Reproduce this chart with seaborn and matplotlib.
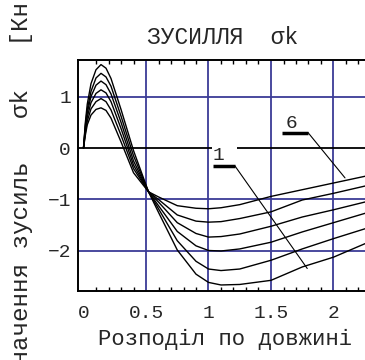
import numpy as np
import pandas as pd
import matplotlib
matplotlib.use("Agg")
import matplotlib.pyplot as plt
from matplotlib.ticker import MultipleLocator
import seaborn as sns

# ---- data ----
x_pos = [0, 0.015, 0.03, 0.06, 0.1, 0.14, 0.18, 0.22, 0.3, 0.4, 0.52, 0.6,
         0.75, 0.9, 1.0, 1.1, 1.25, 1.5, 1.75, 2.0, 2.25, 2.35]
curve_1 = [0, 0.5, 0.85, 1.25, 1.52, 1.62, 1.55, 1.35, 0.75, -0.05, -0.85, -1.25,
           -1.98, -2.45, -2.61, -2.66, -2.65, -2.57, -2.31, -2.12, -1.86, -1.76]
curve_2 = [0, 0.45, 0.75, 1.1, 1.36, 1.45, 1.38, 1.2, 0.62, -0.15, -0.85, -1.18,
           -1.8, -2.2, -2.35, -2.38, -2.35, -2.18, -1.96, -1.76, -1.57, -1.5]
curve_3 = [0, 0.4, 0.68, 1.0, 1.22, 1.3, 1.23, 1.05, 0.5, -0.25, -0.85, -1.12,
           -1.62, -1.9, -1.99, -2.0, -1.96, -1.83, -1.63, -1.45, -1.27, -1.2]
curve_4 = [0, 0.35, 0.6, 0.88, 1.06, 1.13, 1.07, 0.9, 0.38, -0.33, -0.85, -1.05,
           -1.45, -1.66, -1.73, -1.72, -1.67, -1.52, -1.34, -1.2, -1.05, -1.0]
curve_5 = [0, 0.3, 0.52, 0.76, 0.9, 0.96, 0.9, 0.74, 0.25, -0.4, -0.85, -1.0,
           -1.3, -1.42, -1.44, -1.43, -1.37, -1.24, -1.01, -0.88, -0.74, -0.7]
curve_6 = [0, 0.25, 0.45, 0.64, 0.75, 0.78, 0.73, 0.58, 0.12, -0.48, -0.85, -0.95,
           -1.12, -1.17, -1.18, -1.16, -1.1, -0.94, -0.81, -0.68, -0.55, -0.51]
curve_names = ["1", "2", "3", "4", "5", "6"]
x_ticks = [0, 0.5, 1, 1.5, 2]
x_tick_labels = ["0", "0.5", "1", "1.5", "2"]
y_ticks = [-2, -1, 0, 1]
y_tick_labels = ["−2", "−1", "0", "1"]
title_text = "ЗУСИЛЛЯ  σk"
x_label = "Розподіл по довжині"
y_label = "Значення зусиль   σk   [Кн]"

# label annotations: (text, text anchor (left), bar start, bar end, leader end)
labels = [
    ("1 ", (1.036, -0.14), (1.036, -0.35), (1.212, -0.35), (1.79, -2.34)),
    ("6 ", (1.62, 0.47), (1.588, 0.30), (1.796, 0.30), (2.092, -0.58)),
]

all_curves = [curve_1, curve_2, curve_3, curve_4, curve_5, curve_6]
rows = []
for name, vals in zip(curve_names, all_curves):
    for xv, yv in zip(x_pos, vals):
        rows.append({"x": xv, "y": yv, "curve": name})
df = pd.DataFrame(rows)

sns.set_style("white")
mono = ["Liberation Mono", "DejaVu Sans Mono"]
plt.rcParams["font.family"] = mono

fig = plt.figure(figsize=(3.65, 3.6), dpi=100)
ax = fig.add_axes([78 / 365, 69 / 360, 299 / 365, 231 / 360])

grid_c = "#3c3c96"
for gx in [0.5, 1.0, 1.5, 2.0]:
    ax.axvline(gx, color=grid_c, lw=1.3, zorder=1)
for gy in [1, -1, -2]:
    ax.axhline(gy, color=grid_c, lw=1.3, zorder=1)
ax.axhline(0, color="black", lw=1.3, zorder=1)

sns.lineplot(data=df, x="x", y="y", hue="curve", palette=["black"] * 6,
             estimator=None, sort=False, legend=False, lw=1.0, ax=ax, zorder=3)

for txt, tpos, b0, b1, lend in labels:
    ax.text(tpos[0], tpos[1], txt, ha="left", va="center", fontsize=14,
            family=mono, zorder=4,
            bbox=dict(boxstyle="square,pad=0.05", fc="white", ec="none"))
    ax.plot([b0[0], b1[0]], [b0[1], b1[1]], color="black", lw=2.5, zorder=5,
            solid_capstyle="butt")
    ax.plot([b1[0], lend[0]], [b1[1], lend[1]], color="black", lw=0.8, zorder=5)

ax.set_xlim(-0.044, 2.348)
ax.set_ylim(-2.777, 1.709)
ax.set_xticks(x_ticks)
ax.set_xticklabels(x_tick_labels)
ax.set_yticks(y_ticks)
ax.set_yticklabels(y_tick_labels)
ax.xaxis.set_minor_locator(MultipleLocator(0.1))
ax.tick_params(axis="x", which="major", length=0, pad=10, labelsize=14)
ax.tick_params(axis="x", which="minor", direction="in", length=3, width=1,
               top=True, bottom=True, color="black")
ax.tick_params(axis="y", which="major", length=0, pad=5, labelsize=14)
ax.set_xlabel("")
ax.set_ylabel("")
for s in ["left", "bottom", "top"]:
    ax.spines[s].set_color("black")
    ax.spines[s].set_linewidth(1.4)
ax.spines["right"].set_visible(False)

fig.text(223 / 365, (360 - 38) / 360, title_text, ha="center", va="center",
         fontsize=16.5, family=mono)
fig.text(225 / 365, (360 - 339) / 360, x_label, ha="center", va="center",
         fontsize=16, family=mono)
fig.text(22 / 365, 0.49, y_label, ha="center", va="center", rotation=90,
         fontsize=17.5, family=mono)

fig.savefig("out.png", dpi=100)
